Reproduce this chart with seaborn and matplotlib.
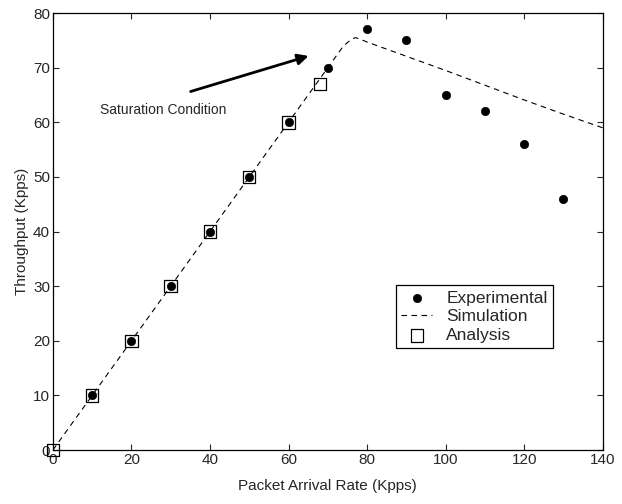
import matplotlib
matplotlib.use('Agg')
import matplotlib.pyplot as plt
import seaborn as sns
import pandas as pd

# Data
exp_rate = [10, 20, 30, 40, 50, 60, 70, 80, 90, 100, 110, 120, 130]
exp_tput = [10, 20, 30, 40, 50, 60, 70, 77, 75, 65, 62, 56, 46]

sim_rate = [0, 70, 74, 76, 77, 78, 80, 90, 100, 110, 120, 130, 140]
sim_tput = [0, 70, 74, 75.2, 75.5, 75.3, 74.7, 72.1, 69.5, 66.8, 64.1, 61.5, 59]

ana_rate = [0, 10, 20, 30, 40, 50, 60, 68]
ana_tput = [0, 10, 20, 30, 40, 50, 60, 67]

sns.set_style("ticks")
plt.rcParams['font.family'] = ['Liberation Sans', 'DejaVu Sans']

exp_df = pd.DataFrame({'rate': exp_rate, 'tput': exp_tput})
sim_df = pd.DataFrame({'rate': sim_rate, 'tput': sim_tput})
ana_df = pd.DataFrame({'rate': ana_rate, 'tput': ana_tput})

fig = plt.figure(figsize=(6.22, 5.04), dpi=100)
ax = fig.add_axes([0.085, 0.107, 0.884, 0.867])

sns.lineplot(data=sim_df, x='rate', y='tput', ax=ax, color='black',
             linestyle=(0, (5, 4)), linewidth=0.8, label='Simulation',
             zorder=2)
sns.scatterplot(data=ana_df, x='rate', y='tput', ax=ax, marker='s', s=80,
                facecolor='none', edgecolor='black', linewidth=0.9,
                label='Analysis', zorder=3, clip_on=False)
sns.scatterplot(data=exp_df, x='rate', y='tput', ax=ax, marker='o', s=36,
                color='black', edgecolor='black', label='Experimental',
                zorder=4)

# arrow pointing at the knee of the curve
ax.annotate('', xy=(65.8, 72.3), xytext=(34.4, 65.5),
            arrowprops=dict(arrowstyle='-|>', color='black', lw=2,
                            mutation_scale=16))
ax.text(12.1, 62.2, 'Saturation Condition', fontsize=10, va='center', ha='left')

ax.set_xlim(0, 140)
ax.set_ylim(0, 80)
ax.set_xticks(range(0, 141, 20))
ax.set_yticks(range(0, 81, 10))
ax.set_xlabel('Packet Arrival Rate (Kpps)', fontsize=11, labelpad=9)
ax.set_ylabel('Throughput (Kpps)', fontsize=11, labelpad=3)
ax.tick_params(direction='in', top=True, right=True, labelsize=11,
               length=4, width=0.8, pad=2)
for sp in ax.spines.values():
    sp.set_visible(True)
    sp.set_linewidth(0.9)
    sp.set_color('black')

handles, labels = ax.get_legend_handles_labels()
order = [labels.index(l) for l in ['Experimental', 'Simulation', 'Analysis']]
leg = ax.legend([handles[i] for i in order], [labels[i] for i in order],
                loc='lower left', bbox_to_anchor=(0.624, 0.233),
                fancybox=False, framealpha=1, edgecolor='black',
                fontsize=12.5, handlelength=1.8, borderpad=0.3,
                labelspacing=0.2, handletextpad=0.8, borderaxespad=0)
leg.get_frame().set_linewidth(0.9)

fig.savefig('out.png', dpi=100)
